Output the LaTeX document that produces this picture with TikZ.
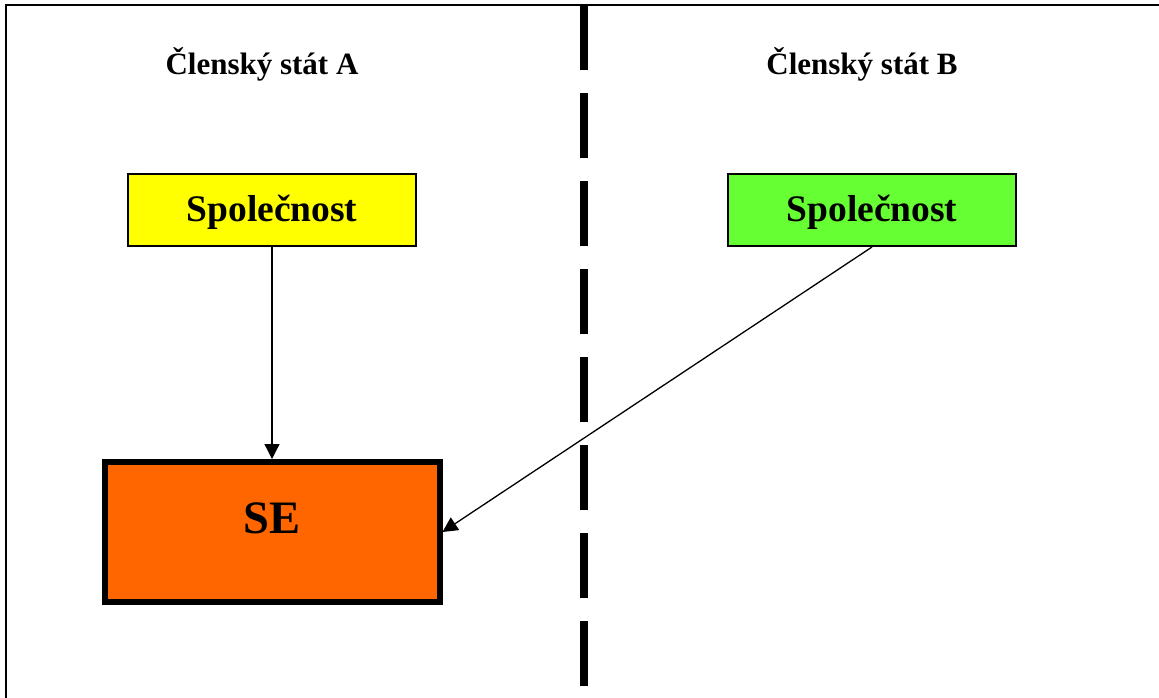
\documentclass[tikz,border=0pt]{standalone}
\usepackage{fontspec}
\setmainfont{Liberation Serif}
\usetikzlibrary{arrows.meta}
\definecolor{boxyellow}{HTML}{FFFF00}
\definecolor{boxgreen}{HTML}{66FF33}
\definecolor{boxorange}{HTML}{FF6600}
\tikzset{
  smallbox/.style={draw=black, line width=2pt, minimum width=288pt, minimum height=72pt,
    inner sep=0pt, text height=26pt, text depth=4pt,
    font=\fontsize{37.5}{40}\selectfont\bfseries},
  bigbox/.style={draw=black, line width=6pt, fill=boxorange, minimum width=335pt, minimum height=140pt,
    inner sep=0pt, text height=32pt, text depth=30pt,
    font=\fontsize{46.5}{50}\selectfont\bfseries},
  title/.style={anchor=base, inner sep=0pt, font=\fontsize{31}{36}\selectfont\bfseries},
  conn/.style={draw=black, line width=1.3pt, -{Triangle[length=15pt,width=15pt]}},
}
\begin{document}
\begin{tikzpicture}[x=1pt,y=-1pt]
\useasboundingbox (0,0) rectangle (1159,698);
% frame
\draw[line width=2pt] (6,698) -- (6,5) -- (1159,5);
% border between states
\draw[line width=8pt, dash pattern=on 65pt off 23pt] (584,5) -- (584,698);
% titles
\node[title] (tA) at (262,75) {Členský stát A};
\node[title] (tB) at (862,75) {Členský stát B};
% boxes
\node[smallbox, fill=boxyellow] (spA) at (272,210) {Společnost};
\node[smallbox, fill=boxgreen] (spB) at (872,210) {Společnost};
\node[bigbox] (se) at (272,532) {SE};
% connectors
\draw[conn] (spA.south) -- (se.north);
\draw[conn] (spB.south) -- (se.east);
\end{tikzpicture}
\end{document}
